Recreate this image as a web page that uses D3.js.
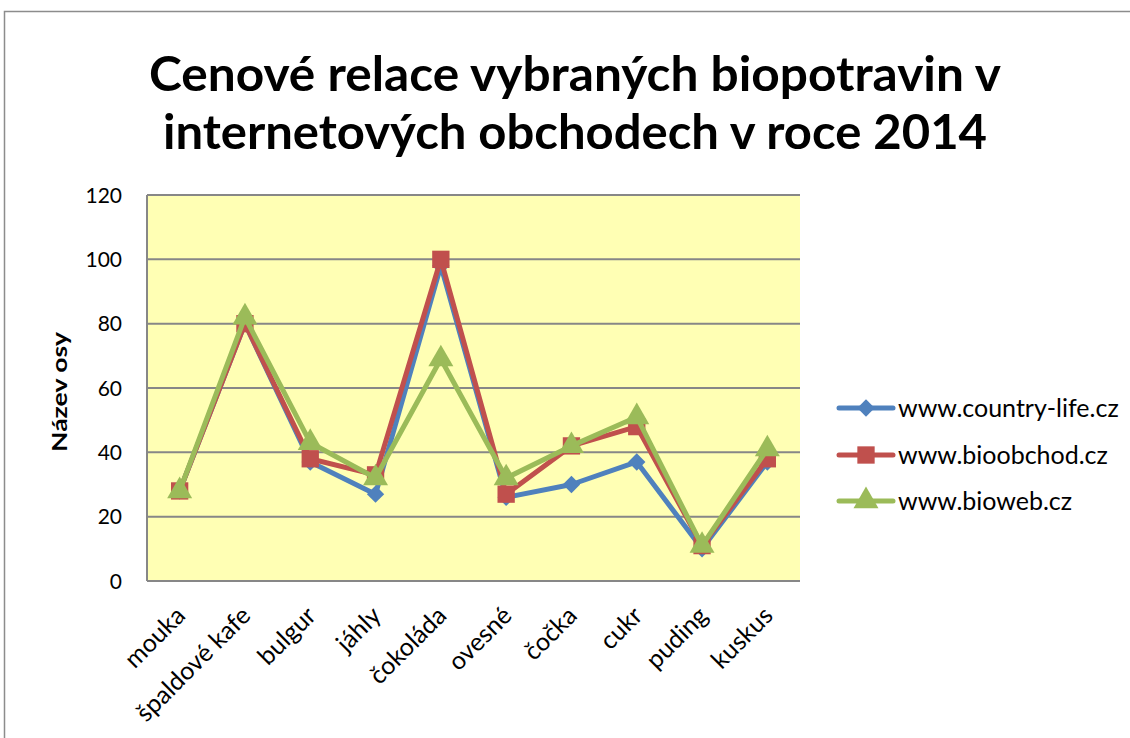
<!DOCTYPE html>
<html><head><meta charset="utf-8">
<script src="https://cdn.jsdelivr.net/npm/d3@7"></script>
<style>body{margin:0;background:#fff}svg{display:block}text{font-family:Lato,"Open Sans",sans-serif}</style>
</head><body>
<svg id="c" width="1130" height="738"></svg>
<script>
const categories = ["mouka","špaldové kafe","bulgur","jáhly","čokoláda","ovesné","čočka","cukr","puding","kuskus"];
const countryLife = [28,80,37,27,98,26,30,37,10,37];
const bioobchod   = [28,80,38,33,100,27,42,48,11,38];
const bioweb      = [28,82,43,32,69,32,42,51,11,41];
const seriesNames = ["www.country-life.cz","www.bioobchod.cz","www.bioweb.cz"];
const yTicks = [0,20,40,60,80,100,120];
const titleLines = ["Cenové relace vybraných biopotravin v","internetových obchodech v roce 2014"];

const colors = ["#4F81BD","#C0504D","#9BBB59"];
const data = [countryLife, bioobchod, bioweb];
const svg = d3.select("#c");

// outer chart border
svg.append("rect").attr("x",4.5).attr("y",11.5).attr("width",1140).attr("height",740)
  .attr("fill","#fff").attr("stroke","#8c8c8c").attr("stroke-width",1.5);

const L=147,R=800,T=195,B=581;
const x = d3.scaleBand().domain(categories).range([L,R]);
const y = d3.scaleLinear().domain([0,120]).range([B,T]);

svg.append("rect").attr("x",L).attr("y",T).attr("width",R-L).attr("height",B-T).attr("fill","#FFFFB4");

// grid
svg.append("g").selectAll("line").data(yTicks).join("line")
  .attr("x1",L).attr("x2",R).attr("y1",d=>y(d)).attr("y2",d=>y(d))
  .attr("stroke","#878787").attr("stroke-width",2);
svg.append("line").attr("x1",L).attr("x2",L).attr("y1",T).attr("y2",B).attr("stroke","#878787").attr("stroke-width",2);

// y tick labels
svg.append("g").selectAll("text").data(yTicks).join("text")
  .attr("x",122).attr("y",d=>y(d)).attr("dy","0.36em").attr("text-anchor","end")
  .attr("font-size",21).attr("fill","#000").text(d=>d);

// y title
svg.append("text").attr("transform",`translate(67,${392}) rotate(-90)`)
  .attr("text-anchor","middle").attr("font-size",20).attr("font-weight","bold")
  .attr("textLength",120).attr("lengthAdjust","spacingAndGlyphs").text("Název osy");

// x labels
svg.append("g").selectAll("text").data(categories).join("text")
  .attr("transform",d=>`translate(${x(d)+x.bandwidth()/2+1},${611}) rotate(-45)`)
  .attr("text-anchor","end").attr("font-size",25).attr("dy","0.35em").text(d=>d);

// title
const tl=[[91,575,852],[149,575,824]];
titleLines.forEach((t,i)=>{
  svg.append("text").attr("x",tl[i][1]).attr("y",tl[i][0]).attr("text-anchor","middle")
    .attr("font-size",48).attr("font-weight","bold")
    .attr("textLength",tl[i][2]).attr("lengthAdjust","spacingAndGlyphs").text(t);
});

const cx = d=>x(d)+x.bandwidth()/2;
const markerPath = [
  d3.symbol().type(d3.symbolSquare).size(150)(),
  d3.symbol().type(d3.symbolSquare).size(300)(),
  d3.symbol().type(d3.symbolTriangle).size(270)()
];
const line = d3.line().x((v,i)=>cx(categories[i])).y(v=>y(v));
data.forEach((s,k)=>{
  const g = svg.append("g");
  g.append("path").attr("d",line(s)).attr("fill","none").attr("stroke",colors[k]).attr("stroke-width",5).attr("stroke-linejoin","round");
  g.selectAll("path.m").data(s).join("path").attr("class","m")
    .attr("d",markerPath[k])
    .attr("transform",(v,i)=>`translate(${cx(categories[i])},${y(v)})`+(k===0?" rotate(45)":""))
    .attr("fill",colors[k]);
});

// legend
const ly=[408,455,501];
seriesNames.forEach((n,k)=>{
  const g=svg.append("g");
  g.append("line").attr("x1",839).attr("x2",893).attr("y1",ly[k]).attr("y2",ly[k]).attr("stroke",colors[k]).attr("stroke-width",5).attr("stroke-linecap","round");
  g.append("path").attr("d",markerPath[k])
    .attr("transform",`translate(866,${ly[k]})`+(k===0?" rotate(45)":"")).attr("fill",colors[k]);
  g.append("text").attr("x",898).attr("y",ly[k]).attr("dy","0.35em").attr("font-size",25).text(n);
});
</script>
</body></html>
